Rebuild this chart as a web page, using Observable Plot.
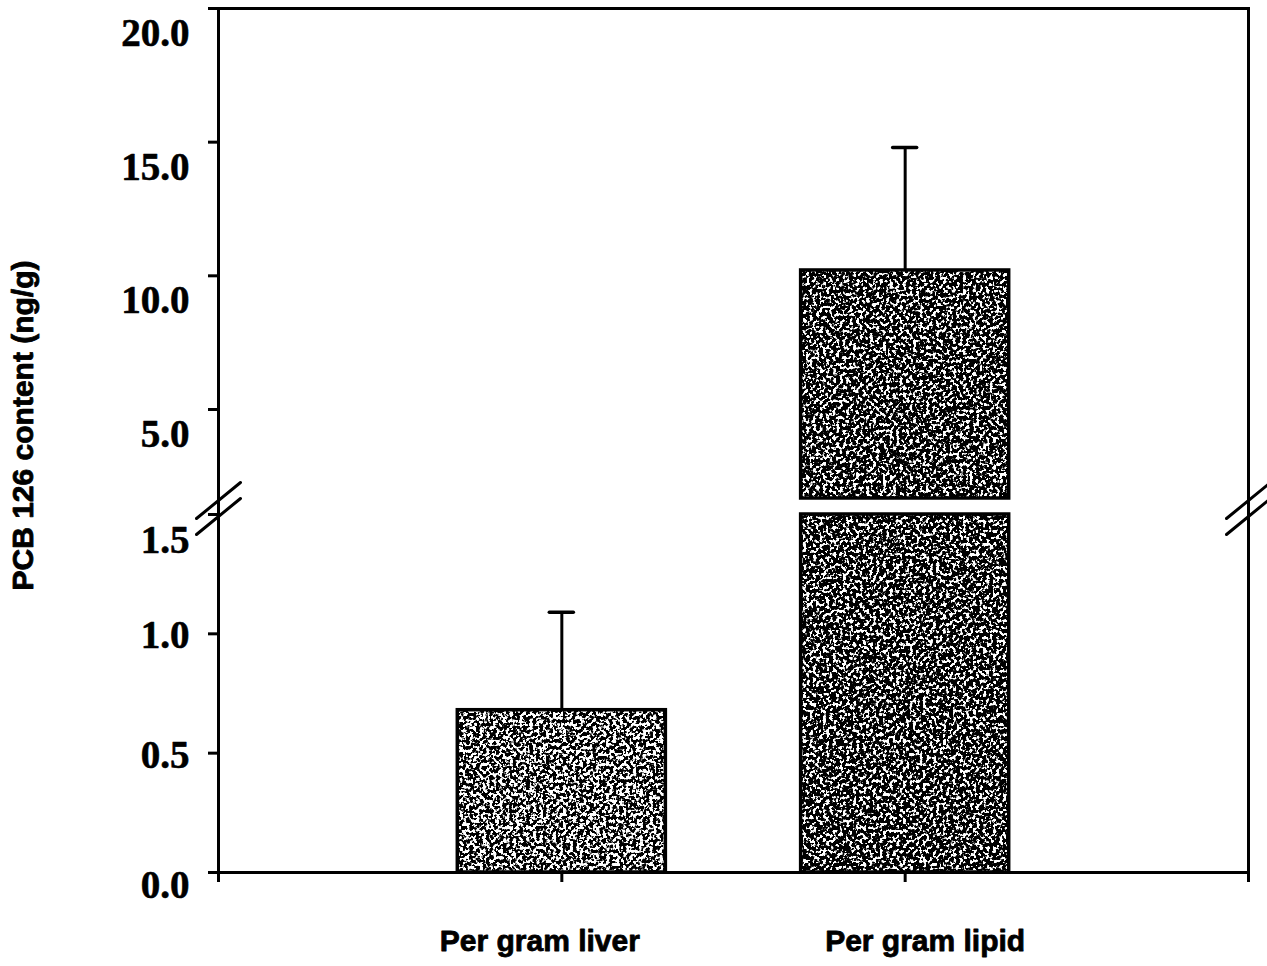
<!DOCTYPE html>
<html><head><meta charset="utf-8">
<script src="https://cdn.jsdelivr.net/npm/d3@7"></script>
<script src="https://cdn.jsdelivr.net/npm/@observablehq/plot@0.6"></script>
<style>body{margin:0;background:#fff;} #chart{width:1267px;height:966px;}</style>
</head><body><div id="chart"></div>
<script>
// ---- data ----
const categories = ["Per gram liver", "Per gram lipid"];
const means = [0.68, 10.2];
const sdUpper = [0.41, 4.6];
const upperTicks = [5.0, 10.0, 15.0, 20.0];
const midTicks = [0.5, 1.0];
const zeroTicks = [0.0];
const breakTicks = [1.5];
const xTickPositions = [0, 1, 2, 3];
const breakLow = 1.5, breakHigh = 1.67;
const yLabel = "PCB 126 content (ng/g)";

// ---- derived table ----
const bars = categories.map((c, i) => ({cat: c, x: i + 1, mean: means[i], top: means[i] + sdUpper[i]}));
const segments = bars.flatMap(b => b.mean > breakHigh
  ? [{...b, y1: 0, y2: breakLow}, {...b, y1: breakHigh, y2: b.mean}]
  : [{...b, y1: 0, y2: b.mean}]);
const barHalf = 0.303, capHalf = 0.035;
const breakMarks = [{x: 0, y: (breakLow + breakHigh) / 2}, {x: 3, y: (breakLow + breakHigh) / 2}];
const breakSymbol = {draw(ctx) { ctx.moveTo(-22, 12); ctx.lineTo(22, -24); ctx.moveTo(-22, 28); ctx.lineTo(22, -8); }};

const fmt = d3.format(".1f");
const serif = {fontFamily: "Liberation Serif", fontWeight: "bold", fontSize: 39, textAnchor: "end", dx: -29, fill: "black", stroke: "black", strokeWidth: 0.6};
const sans = {fontFamily: "Liberation Sans", fontWeight: "bold", fontSize: 30, fill: "black", stroke: "black", strokeWidth: 0.8};

const svg = Plot.plot({
  width: 1267, height: 966,
  marginLeft: 218, marginRight: 19, marginTop: 8, marginBottom: 94,
  x: {domain: [0, 3], axis: null},
  y: {type: "linear", domain: [0, breakLow, breakHigh, 20], range: [872, 514, 498, 8], axis: null},
  style: {background: "white", color: "black"},
  marks: [
    Plot.rect(segments.filter(d => d.x === 1), {x1: d => d.x - barHalf, x2: d => d.x + barHalf, y1: "y1", y2: "y2", fill: "url(#stip-light)", stroke: "black", strokeWidth: 3.5}),
    Plot.rect(segments.filter(d => d.x === 2), {x1: d => d.x - barHalf, x2: d => d.x + barHalf, y1: "y1", y2: "y2", fill: "url(#stip-dark)", stroke: "black", strokeWidth: 3.5}),
    Plot.ruleX(bars, {x: "x", y1: "mean", y2: "top", strokeWidth: 3}),
    Plot.ruleY(bars, {y: "top", x1: d => d.x - capHalf, x2: d => d.x + capHalf, strokeWidth: 3.5, strokeLinecap: "round"}),
    Plot.frame({strokeWidth: 3}),
    Plot.axisY([...zeroTicks, ...midTicks, ...breakTicks, ...upperTicks], {tickSize: 10, strokeWidth: 3, tickFormat: () => "", label: null}),
    Plot.axisX(xTickPositions, {tickSize: 10, strokeWidth: 3, tickFormat: () => "", label: null}),
    Plot.text(upperTicks, {x: 0, y: d => d, text: fmt, ...serif, dy: 25}),
    Plot.text(midTicks, {x: 0, y: d => d, text: fmt, ...serif, dy: 2}),
    Plot.text(zeroTicks, {x: 0, y: d => d, text: fmt, ...serif, dy: 13}),
    Plot.text(breakTicks, {x: 0, y: d => d, text: fmt, ...serif, dy: 26}),
    Plot.text(bars.filter(d => d.x === 1), {x: "x", y: 0, text: "cat", ...sans, dy: 69, dx: -22}),
    Plot.text(bars.filter(d => d.x === 2), {x: "x", y: 0, text: "cat", ...sans, dy: 69, dx: 20}),
    Plot.dot(breakMarks, {x: "x", y: "y", symbol: breakSymbol, r: 10, fill: "none", stroke: "black", strokeWidth: 3, strokeLinecap: "round"}),
    Plot.text([yLabel], {frameAnchor: "left", textAnchor: "middle", rotate: -90, dx: -195, dy: -15, ...sans})
  ]
});

d3.select(svg).insert("defs", ":first-child").html(`
  <filter id="f-light" x="0" y="0" width="1" height="1" filterUnits="objectBoundingBox">
    <feTurbulence type="fractalNoise" baseFrequency="0.3" numOctaves="2" seed="4"/>
    <feColorMatrix type="matrix" values="0 0 0 0 0  0 0 0 0 0  0 0 0 0 0  -14 0 0 0 7.75"/>
  </filter>
  <filter id="f-dark" x="0" y="0" width="1" height="1" filterUnits="objectBoundingBox">
    <feTurbulence type="fractalNoise" baseFrequency="0.3" numOctaves="2" seed="9"/>
    <feColorMatrix type="matrix" values="0 0 0 0 0  0 0 0 0 0  0 0 0 0 0  -14 0 0 0 8.3"/>
  </filter>
  <pattern id="stip-light" patternUnits="userSpaceOnUse" x="0" y="0" width="1267" height="966">
    <rect width="1267" height="966" fill="white"/>
    <rect width="1267" height="966" fill="black" filter="url(#f-light)"/>
  </pattern>
  <pattern id="stip-dark" patternUnits="userSpaceOnUse" x="0" y="0" width="1267" height="966">
    <rect width="1267" height="966" fill="white"/>
    <rect width="1267" height="966" fill="black" filter="url(#f-dark)"/>
  </pattern>`);

document.getElementById("chart").append(svg);
</script>
</body></html>
